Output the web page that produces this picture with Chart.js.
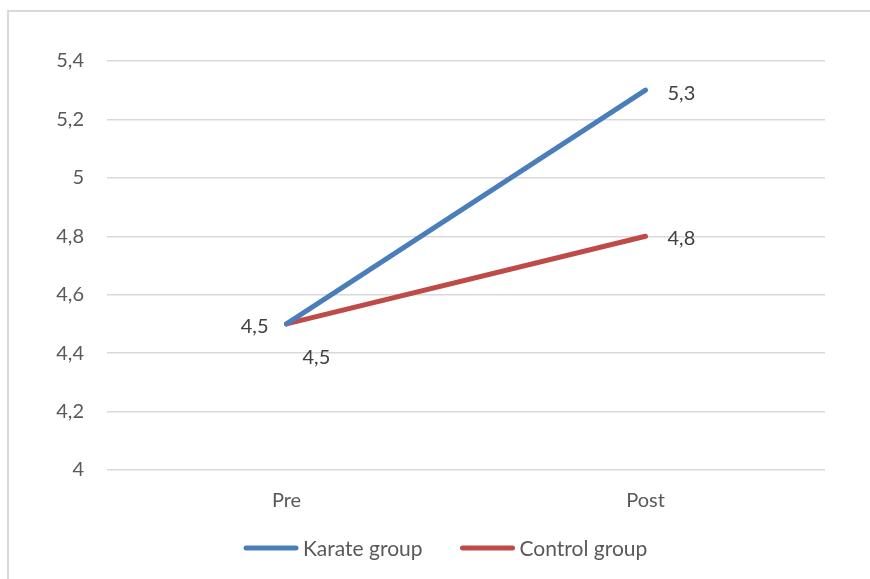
<!DOCTYPE html>
<html>
<head>
<meta charset="utf-8">
<script src="https://cdn.jsdelivr.net/npm/chart.js@4/dist/chart.umd.min.js"></script>
<style>
  html, body { margin: 0; padding: 0; background: #fff; }
  #wrap { position: relative; width: 870px; height: 579px; overflow: hidden; }
  #frame { position: absolute; left: 7px; top: 10px; right: -10px; bottom: -10px;
           border-left: 2px solid #d9d9d9; border-top: 2px solid #d9d9d9; }
  canvas { position: absolute; left: 0; top: 0; }
</style>
</head>
<body>
<div id="wrap">
  <div id="frame"></div>
  <canvas id="c" width="870" height="579"></canvas>
</div>
<script>
// Mean scores before and after the training period
const phases = ['Pre', 'Post'];
const karateGroup = [4.5, 5.3];
const controlGroup = [4.5, 4.8];
const yTicks = [4, 4.2, 4.4, 4.6, 4.8, 5, 5.2, 5.4];

const FONT = 'Lato, "Open Sans", sans-serif';
const FONT_SIZE = 20;
const fmt = v => String(Number(v.toFixed(1))).replace('.', ',');

// Where each value label sits relative to its point: [dx, dy, align]
const labelPlacement = [
  [[-18, 3, 'right'], [22, 3, 'left']],
  [[16, 34, 'left'], [22, 2, 'left']]
];

const valueLabels = {
  id: 'valueLabels',
  afterDatasetsDraw(chart) {
    const ctx = chart.ctx;
    ctx.save();
    ctx.font = FONT_SIZE + 'px ' + FONT;
    ctx.fillStyle = '#404040';
    ctx.textBaseline = 'middle';
    chart.data.datasets.forEach((ds, di) => {
      const meta = chart.getDatasetMeta(di);
      meta.data.forEach((pt, i) => {
        const [dx, dy, align] = labelPlacement[di][i];
        ctx.textAlign = align;
        ctx.fillText(fmt(ds.data[i]), pt.x + dx, pt.y + dy);
      });
    });
    ctx.restore();
  }
};

// Legend row under the axis: a short line sample followed by the series name
const lineLegend = {
  id: 'lineLegend',
  afterDraw(chart, args, opts) {
    const ctx = chart.ctx;
    ctx.save();
    ctx.font = opts.fontSize + 'px ' + FONT;
    ctx.textBaseline = 'middle';
    ctx.textAlign = 'left';
    let x = opts.startX;
    chart.data.datasets.forEach(ds => {
      const w = opts.sample + opts.gap + ctx.measureText(ds.label).width;
      ctx.strokeStyle = ds.borderColor;
      ctx.lineWidth = ds.borderWidth;
      ctx.lineCap = 'round';
      ctx.beginPath();
      ctx.moveTo(x + 2, opts.y);
      ctx.lineTo(x + opts.sample - 2, opts.y);
      ctx.stroke();
      ctx.fillStyle = '#595959';
      ctx.fillText(ds.label, x + opts.sample + opts.gap, opts.y + 1);
      x += w + opts.spacing;
    });
    ctx.restore();
  }
};

new Chart(document.getElementById('c'), {
  type: 'line',
  data: {
    labels: phases,
    datasets: [
      { label: 'Karate group', data: karateGroup, borderColor: '#4a7ebb', backgroundColor: '#4a7ebb',
        borderWidth: 5, borderCapStyle: 'round', pointRadius: 0, pointHoverRadius: 0, tension: 0 },
      { label: 'Control group', data: controlGroup, borderColor: '#be4b48', backgroundColor: '#be4b48',
        borderWidth: 5, borderCapStyle: 'round', pointRadius: 0, pointHoverRadius: 0, tension: 0 }
    ]
  },
  options: {
    responsive: false,
    animation: false,
    events: [],
    layout: { padding: { top: 61, right: 45, left: 0, bottom: 57 } },
    scales: {
      x: {
        offset: true,
        grid: { display: false, drawTicks: false },
        border: { display: false },
        ticks: { color: '#595959', font: { family: FONT, size: FONT_SIZE }, padding: 19 },
        afterFit: s => { s.height = 52; }
      },
      y: {
        min: 4, max: 5.4,
        afterBuildTicks: s => { s.ticks = yTicks.map(v => ({ value: v })); },
        grid: { color: '#d9d9d9', lineWidth: 1.5, drawTicks: false },
        border: { display: false },
        ticks: { color: '#595959', font: { family: FONT, size: FONT_SIZE }, padding: 23, callback: v => fmt(v) },
        afterFit: s => { s.width = 107; }
      }
    },
    plugins: {
      tooltip: { enabled: false },
      legend: { display: false },
      lineLegend: { startX: 244, y: 548, sample: 54, gap: 5, spacing: 38, fontSize: 21 }
    }
  },
  plugins: [valueLabels, lineLegend]
});
</script>
</body>
</html>
